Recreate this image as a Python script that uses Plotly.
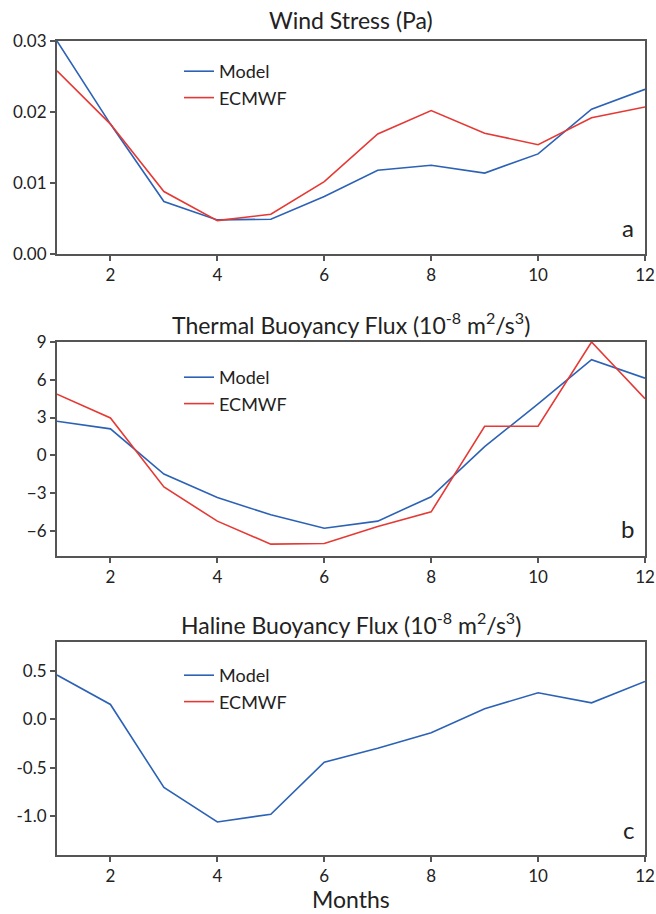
import plotly.graph_objects as go

months = list(range(1, 13))

wind_model = [0.0300, 0.0183, 0.0074, 0.0048, 0.0049, 0.0081, 0.0118, 0.0125, 0.0114, 0.0141, 0.0204, 0.0232]
wind_ecmwf = [0.0258, 0.0183, 0.0088, 0.0047, 0.0056, 0.0102, 0.0169, 0.0202, 0.0170, 0.0154, 0.0192, 0.0207]

thermal_model = [2.71, 2.10, -1.49, -3.35, -4.73, -5.79, -5.23, -3.29, 0.69, 4.09, 7.59, 6.13]
thermal_ecmwf = [4.86, 2.97, -2.52, -5.23, -7.06, -7.01, -5.65, -4.49, 2.31, 2.31, 9.00, 4.49]

haline_model = [0.459, 0.155, -0.703, -1.059, -0.979, -0.441, -0.297, -0.138, 0.110, 0.276, 0.172, 0.393]
haline_ecmwf = [None] * 12  # no ECMWF haline data shown

x_ticks = [2, 4, 6, 8, 10, 12]
wind_ticks = [0.00, 0.01, 0.02, 0.03]
wind_ticktext = ["0.00", "0.01", "0.02", "0.03"]
thermal_ticks = [-6, -3, 0, 3, 6, 9]
haline_ticks = [-1.0, -0.5, 0.0, 0.5]
haline_ticktext = ["-1.0", "-0.5", "0.0", "0.5"]

titles = [
    "Wind Stress (Pa)",
    "Thermal Buoyancy Flux (10<sup>-8</sup> m<sup>2</sup>/s<sup>3</sup>)",
    "Haline Buoyancy Flux (10<sup>-8</sup> m<sup>2</sup>/s<sup>3</sup>)",
]
panel_letters = ["a", "b", "c"]
x_title = "Months"

BLUE = "#2c62b6"
RED = "#e53935"
AXC = "#555555"
FONT = "Lato"
W, H = 656, 914
L, R = 57, 11

def py(px):
    return 1 - px / H

def pxr(px):
    return (px - L) / (W - L - R)

fig = go.Figure()

series = [
    (wind_model, wind_ecmwf, "x", "y", "legend"),
    (thermal_model, thermal_ecmwf, "x2", "y2", "legend2"),
    (haline_model, haline_ecmwf, "x3", "y3", "legend3"),
]
for m, e, xa, ya, lg in series:
    fig.add_trace(go.Scatter(x=months, y=m, mode="lines", name="Model",
                             line=dict(color=BLUE, width=1.6), xaxis=xa, yaxis=ya, legend=lg))
    fig.add_trace(go.Scatter(x=months, y=e, mode="lines", name="ECMWF",
                             line=dict(color=RED, width=1.6), xaxis=xa, yaxis=ya, legend=lg))

# panel pixel extents (top, bottom)
panels = [(41, 254), (342, 556), (642, 855)]

axis_common = dict(showline=True, linecolor=AXC, linewidth=2, mirror=True,
                   ticks="outside", ticklen=5, tickwidth=2, tickcolor=AXC,
                   showgrid=False, zeroline=False, automargin=False,
                   tickfont=dict(family=FONT, size=17, color="#222"))

for i, (top, bot) in enumerate(panels):
    sfx = "" if i == 0 else str(i + 1)
    fig.layout["xaxis" + sfx] = dict(axis_common, range=[1, 12], tickvals=x_ticks,
                                    anchor="y" + sfx, domain=[0, 1])
    fig.layout["yaxis" + sfx] = dict(axis_common, anchor="x" + sfx, domain=[py(bot), py(top)])

fig.layout.yaxis.update(range=[0, 0.03], tickvals=wind_ticks, ticktext=wind_ticktext)
fig.layout.yaxis2.update(range=[-8, 9], tickvals=thermal_ticks)
fig.layout.yaxis3.update(range=[-1.4, 0.8], tickvals=haline_ticks, ticktext=haline_ticktext)

title_y = [20, 323, 623]
for t, yy in zip(titles, title_y):
    fig.add_annotation(text=t, xref="paper", yref="paper", x=0.5, y=py(yy),
                       xanchor="center", yanchor="middle", showarrow=False,
                       font=dict(family=FONT, size=23, color="#222"))

fig.add_annotation(text=x_title, xref="paper", yref="paper", x=0.5, y=0,
                   xanchor="center", yanchor="bottom", showarrow=False, borderpad=0,
                   font=dict(family=FONT, size=23, color="#222"))

letter_y = [244, 545, 846]
for t, yy in zip(panel_letters, letter_y):
    fig.add_annotation(text=t, xref="paper", yref="paper", x=pxr(636), y=py(yy),
                       xanchor="right", yanchor="bottom", showarrow=False,
                       font=dict(family=FONT, size=24, color="#222"))

leg_common = dict(x=pxr(179), xanchor="left", yanchor="top",
                  bgcolor="rgba(0,0,0,0)", font=dict(family=FONT, size=18, color="#222"),
                  itemwidth=30, tracegroupgap=0)
fig.update_layout(
    legend=dict(leg_common, y=py(53)),
    legend2=dict(leg_common, y=py(359)),
    legend3=dict(leg_common, y=py(657)),
)

fig.update_layout(width=W, height=H, margin=dict(l=L, r=R, t=0, b=0, autoexpand=False),
                  plot_bgcolor="white", paper_bgcolor="white", showlegend=True)

fig.write_html("out.html")
